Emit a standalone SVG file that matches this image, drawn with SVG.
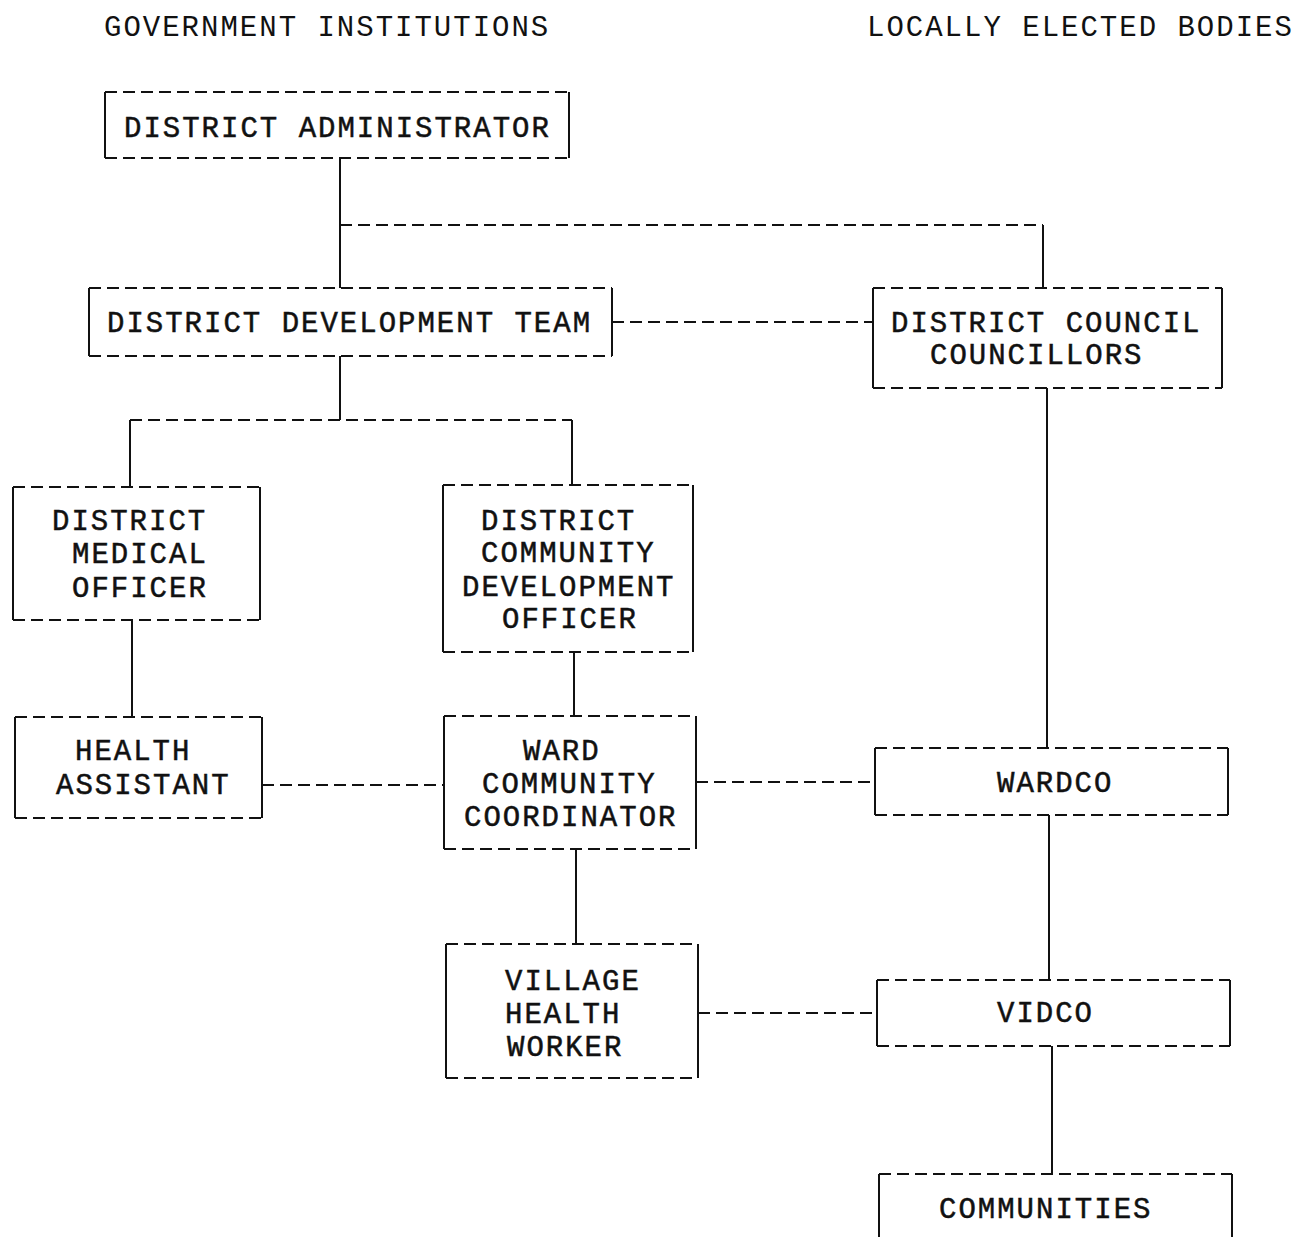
<svg xmlns="http://www.w3.org/2000/svg" width="1303" height="1237" viewBox="0 0 1303 1237">
<style>
text{font-family:"Liberation Mono","DejaVu Sans Mono",monospace;font-size:29px;letter-spacing:2px;fill:#111;stroke:#111;stroke-width:0.5px}
text.h{stroke-width:0}
.d{stroke:#111;stroke-width:2;fill:none;stroke-dasharray:12 6}
.s{stroke:#111;stroke-width:2;fill:none}
</style>
<rect width="1303" height="1237" fill="#fff"/>
<text class="h" x="104" y="36">GOVERNMENT INSTITUTIONS</text>
<text class="h" x="867" y="36">LOCALLY ELECTED BODIES</text>
<g id="connectors">
<path class="s" d="M340 158V288"/>
<path class="d" d="M340 225H1043"/>
<path class="s" d="M1043 225V288"/>
<path class="d" d="M612 322H873"/>
<path class="s" d="M340 356V420"/>
<path class="d" d="M130 420H572"/>
<path class="s" d="M130 420V487M572 420V485"/>
<path class="s" d="M132 620V717"/>
<path class="s" d="M574 652V716"/>
<path class="d" d="M262 785H444"/>
<path class="d" d="M696 782H875"/>
<path class="s" d="M1047 388V748"/>
<path class="s" d="M576 849V944"/>
<path class="d" d="M698 1013H877"/>
<path class="s" d="M1049 815V980"/>
<path class="s" d="M1052 1046V1174"/>
</g>
<g id="n1"><path class="d" d="M105 92H569M105 158H569"/><path class="s" d="M105 92V158M569 92V158"/><text x="124" y="137">DISTRICT ADMINISTRATOR</text></g>
<g id="n2"><path class="d" d="M89 288H612M89 356H612"/><path class="s" d="M89 288V356M612 288V356"/><text x="107" y="332">DISTRICT DEVELOPMENT TEAM</text></g>
<g id="n3"><path class="d" d="M873 288H1222M873 388H1222"/><path class="s" d="M873 288V388M1222 288V388"/><text x="891" y="332">DISTRICT COUNCIL</text><text x="930" y="364">COUNCILLORS</text></g>
<g id="n4"><path class="d" d="M13 487H260M13 620H260"/><path class="s" d="M13 487V620M260 487V620"/><text x="52" y="530">DISTRICT</text><text x="72" y="563">MEDICAL</text><text x="72" y="597">OFFICER</text></g>
<g id="n5"><path class="d" d="M443 485H693M443 652H693"/><path class="s" d="M443 485V652M693 485V652"/><text x="481" y="530">DISTRICT</text><text x="481" y="562">COMMUNITY</text><text x="462" y="596">DEVELOPMENT</text><text x="502" y="628">OFFICER</text></g>
<g id="n6"><path class="d" d="M15 717H262M15 818H262"/><path class="s" d="M15 717V818M262 717V818"/><text x="75" y="760">HEALTH</text><text x="56" y="794">ASSISTANT</text></g>
<g id="n7"><path class="d" d="M444 716H696M444 849H696"/><path class="s" d="M444 716V849M696 716V849"/><text x="523" y="760">WARD</text><text x="482" y="793">COMMUNITY</text><text x="464" y="826">COORDINATOR</text></g>
<g id="n8"><path class="d" d="M875 748H1228M875 815H1228"/><path class="s" d="M875 748V815M1228 748V815"/><text x="997" y="792">WARDCO</text></g>
<g id="n9"><path class="d" d="M446 944H698M446 1078H698"/><path class="s" d="M446 944V1078M698 944V1078"/><text x="505" y="990">VILLAGE</text><text x="505" y="1023">HEALTH</text><text x="507" y="1056">WORKER</text></g>
<g id="n10"><path class="d" d="M877 980H1230M877 1046H1230"/><path class="s" d="M877 980V1046M1230 980V1046"/><text x="997" y="1022">VIDCO</text></g>
<g id="n11"><path class="d" d="M879 1174H1232"/><path class="s" d="M879 1174V1240M1232 1174V1240"/><text x="939" y="1218">COMMUNITIES</text></g>
</svg>
